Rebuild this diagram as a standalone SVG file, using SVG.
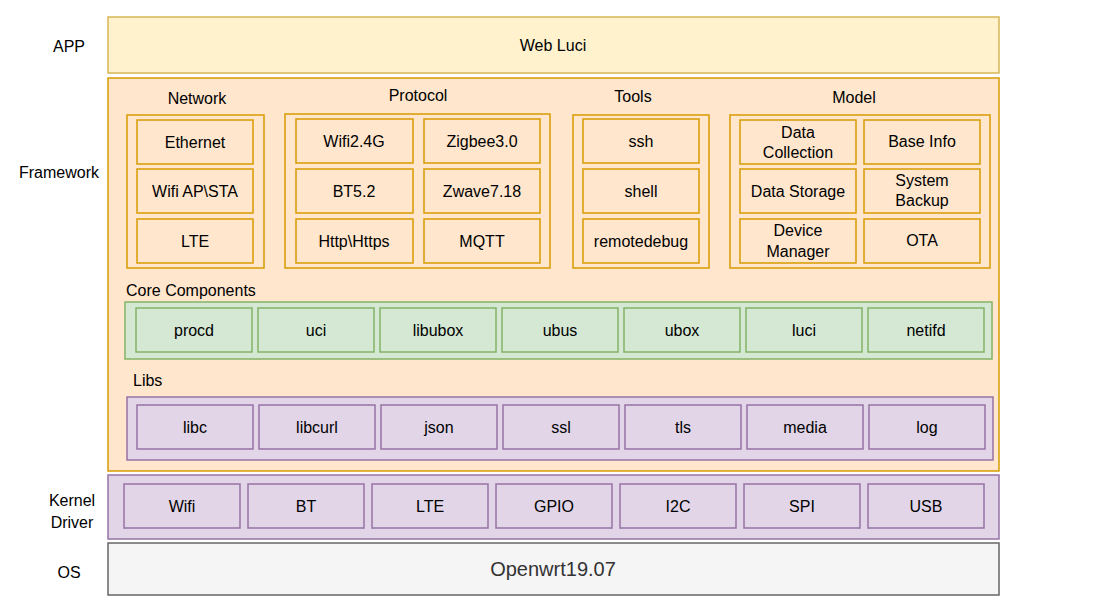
<svg xmlns="http://www.w3.org/2000/svg" width="1097" height="606" viewBox="0 0 1097 606">
<style>
text{font-family:"Liberation Sans",Arial,sans-serif;font-size:16px;fill:#000;text-anchor:middle;dominant-baseline:central}
.o{fill:#ffe6cc;stroke:#d79b00;stroke-width:1.5}
.y{fill:#fff2cc;stroke:#d6b656;stroke-width:1.5}
.g{fill:#d5e8d4;stroke:#82b366;stroke-width:1.5}
.p{fill:#e1d5e7;stroke:#9673a6;stroke-width:1.5}
.s{fill:#f5f5f5;stroke:#666;stroke-width:1.5}
.l{text-anchor:start}
</style>
<rect width="1097" height="606" fill="#fff"/>
<g id="labels">
<text x="69" y="46">APP</text><text x="59" y="172">Framework</text>
<text x="72" y="500">Kernel</text><text x="72" y="522">Driver</text><text x="69" y="572">OS</text>
</g>
<g id="app"><rect class="y" x="108" y="17" width="891" height="56"/><text x="553" y="45">Web Luci</text></g>
<g id="framework"><rect class="o" x="108" y="78" width="891" height="393"/></g>
<g id="network"><text x="197" y="98">Network</text><rect class="o" x="127" y="115" width="137" height="153"/>
<rect class="o" x="137" y="120" width="116" height="44"/><text x="195" y="142">Ethernet</text>
<rect class="o" x="137" y="169" width="116" height="44"/><text x="195" y="191">Wifi AP\STA</text>
<rect class="o" x="137" y="219" width="116" height="44"/><text x="195" y="241">LTE</text></g>
<g id="protocol"><text x="418" y="95">Protocol</text><rect class="o" x="285" y="114" width="265" height="154"/>
<rect class="o" x="296" y="119" width="117" height="44"/><text x="354" y="141">Wifi2.4G</text>
<rect class="o" x="424" y="119" width="116" height="44"/><text x="482" y="141">Zigbee3.0</text>
<rect class="o" x="296" y="169" width="117" height="44"/><text x="354" y="191">BT5.2</text>
<rect class="o" x="424" y="169" width="116" height="44"/><text x="482" y="191">Zwave7.18</text>
<rect class="o" x="296" y="219" width="117" height="44"/><text x="354" y="241">Http\Https</text>
<rect class="o" x="424" y="219" width="116" height="44"/><text x="482" y="241">MQTT</text></g>
<g id="tools"><text x="633" y="96">Tools</text><rect class="o" x="573" y="115" width="136" height="153"/>
<rect class="o" x="583" y="119" width="116" height="44"/><text x="641" y="141">ssh</text>
<rect class="o" x="583" y="169" width="116" height="44"/><text x="641" y="191">shell</text>
<rect class="o" x="583" y="219" width="116" height="44"/><text x="641" y="241">remotedebug</text></g>
<g id="model"><text x="854" y="97">Model</text><rect class="o" x="730" y="115" width="260" height="153"/>
<rect class="o" x="740" y="120" width="116" height="44"/><text x="798" y="132">Data</text><text x="798" y="152">Collection</text>
<rect class="o" x="864" y="120" width="116" height="44"/><text x="922" y="141">Base Info</text>
<rect class="o" x="740" y="169" width="116" height="44"/><text x="798" y="191">Data Storage</text>
<rect class="o" x="864" y="169" width="116" height="44"/><text x="922" y="180">System</text><text x="922" y="200">Backup</text>
<rect class="o" x="740" y="219" width="116" height="44"/><text x="798" y="230">Device</text><text x="798" y="251">Manager</text>
<rect class="o" x="864" y="219" width="116" height="44"/><text x="922" y="240">OTA</text></g>
<g id="core"><text class="l" x="126" y="290">Core Components</text><rect class="g" x="125" y="302" width="867" height="57"/>
<rect class="g" x="136" y="308" width="116" height="44"/><text x="194" y="330">procd</text>
<rect class="g" x="258" y="308" width="116" height="44"/><text x="316" y="330">uci</text>
<rect class="g" x="380" y="308" width="116" height="44"/><text x="438" y="330">libubox</text>
<rect class="g" x="502" y="308" width="116" height="44"/><text x="560" y="330">ubus</text>
<rect class="g" x="624" y="308" width="116" height="44"/><text x="682" y="330">ubox</text>
<rect class="g" x="746" y="308" width="116" height="44"/><text x="804" y="330">luci</text>
<rect class="g" x="868" y="308" width="116" height="44"/><text x="926" y="330">netifd</text></g>
<g id="libs"><text class="l" x="133" y="380">Libs</text><rect class="p" x="127" y="397" width="866" height="63"/>
<rect class="p" x="137" y="405" width="116" height="44"/><text x="195" y="427">libc</text>
<rect class="p" x="259" y="405" width="116" height="44"/><text x="317" y="427">libcurl</text>
<rect class="p" x="381" y="405" width="116" height="44"/><text x="439" y="427">json</text>
<rect class="p" x="503" y="405" width="116" height="44"/><text x="561" y="427">ssl</text>
<rect class="p" x="625" y="405" width="116" height="44"/><text x="683" y="427">tls</text>
<rect class="p" x="747" y="405" width="116" height="44"/><text x="805" y="427">media</text>
<rect class="p" x="869" y="405" width="116" height="44"/><text x="927" y="427">log</text></g>
<g id="kernel"><rect class="p" x="108" y="475" width="891" height="64"/>
<rect class="p" x="124" y="484" width="116" height="44"/><text x="182" y="506">Wifi</text>
<rect class="p" x="248" y="484" width="116" height="44"/><text x="306" y="506">BT</text>
<rect class="p" x="372" y="484" width="116" height="44"/><text x="430" y="506">LTE</text>
<rect class="p" x="496" y="484" width="116" height="44"/><text x="554" y="506">GPIO</text>
<rect class="p" x="620" y="484" width="116" height="44"/><text x="678" y="506">I2C</text>
<rect class="p" x="744" y="484" width="116" height="44"/><text x="802" y="506">SPI</text>
<rect class="p" x="868" y="484" width="116" height="44"/><text x="926" y="506">USB</text></g>
<g id="os"><rect class="s" x="108" y="543" width="891" height="52"/><text x="553" y="569" style="font-size:20px;fill:#333">Openwrt19.07</text></g>
<g id="connectors"/>
</svg>
